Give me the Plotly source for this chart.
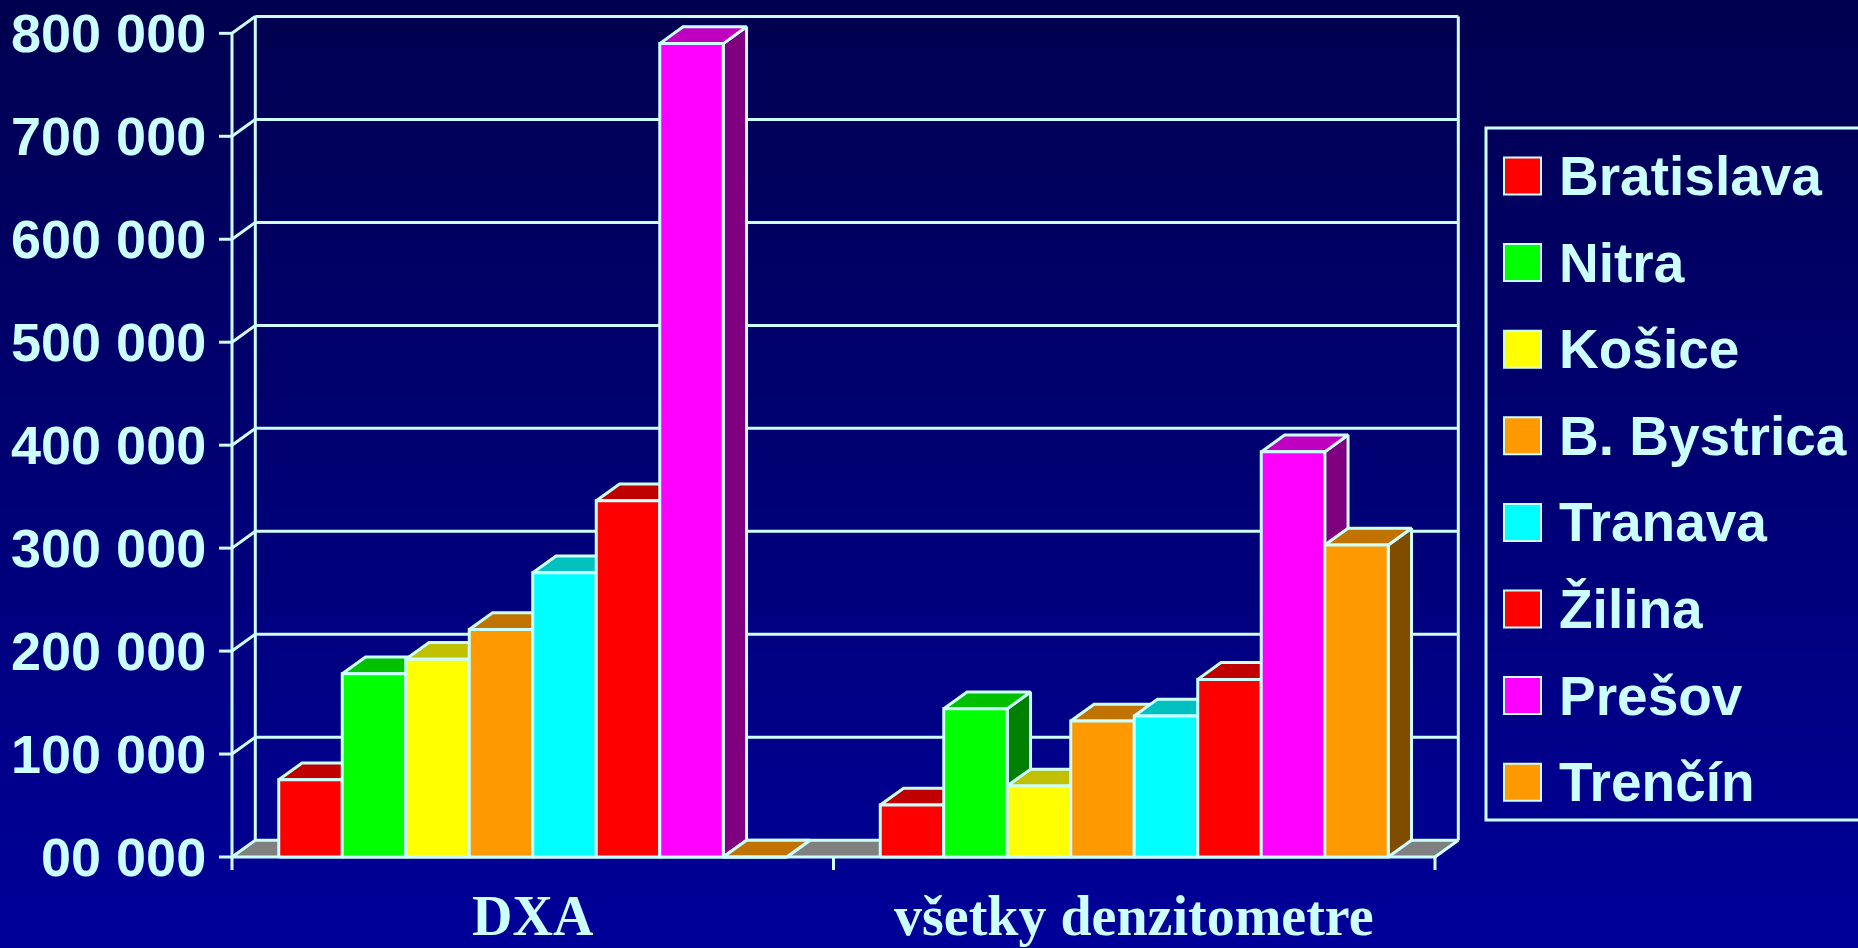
import plotly.graph_objects as go

# ---------------- data ----------------
categories = ["DXA", "všetky denzitometre"]
regions = ["Bratislava", "Nitra", "Košice", "B. Bystrica", "Tranava", "Žilina", "Prešov", "Trenčín"]
values_dxa = [75000, 178000, 192000, 221000, 276000, 346000, 790000, 0]
values_all = [50500, 144000, 69000, 132000, 137000, 172500, 393500, 303000]
y_tickvals = [0, 100000, 200000, 300000, 400000, 500000, 600000, 700000, 800000]
y_ticktext = ["00 000", "100 000", "200 000", "300 000", "400 000",
              "500 000", "600 000", "700 000", "800 000"]

front_colors = ["#FF0000", "#00FF00", "#FFFF00", "#FF9900", "#00FFFF", "#FF0000", "#FF00FF", "#FF9900"]
top_colors = ["#C00000", "#00C000", "#C0C000", "#C07300", "#00C0C0", "#C00000", "#C000C0", "#C07300"]
side_colors = ["#800000", "#008000", "#808000", "#804D00", "#008080", "#800000", "#800080", "#804D00"]

series_by_cat = [values_dxa, values_all]

# ---------------- geometry (pixel layout) ----------------
W, H = 1858, 948
TXT = "#CCFFFF"
LW = 3
X0_PX = 232.0      # front-left corner of the floor
CAT_PX = 601.5     # pixels per category
BASE_PX = 857.0    # baseline (value 0) on the front plane
YS = 102.96 / 100000.0  # pixels per unit value
DEPTH_X_PX = 23.3
DEPTH_Y_PX = 16.8
BAR_PX = 63.5


def x_of(px):
    return -0.5 + (px - X0_PX) / CAT_PX


def y_of(px):
    return (BASE_PX - px) / YS


dX = DEPTH_X_PX / CAT_PX
dY = DEPTH_Y_PX / YS
BW = BAR_PX / CAT_PX
YMAX = y_tickvals[-1]
n_ser = len(regions)

fig = go.Figure()

# floor
fig.add_trace(go.Scatter(
    x=[-0.5, len(categories) - 0.5, len(categories) - 0.5 + dX, -0.5 + dX, -0.5],
    y=[0, 0, dY, dY, 0], mode="lines", fill="toself", fillcolor="#808080",
    line=dict(color=TXT, width=LW), hoverinfo="skip", showlegend=False))

# 3D bars, painter's order left to right
for ci, vals in enumerate(series_by_cat):
    for si, v in enumerate(vals):
        x0 = ci - n_ser / 2 * BW + si * BW
        x1 = x0 + BW
        faces = [
            ([x1, x1 + dX, x1 + dX, x1, x1], [0, dY, v + dY, v, 0], side_colors[si]),
            ([x0, x1, x1 + dX, x0 + dX, x0], [v, v, v + dY, v + dY, v], top_colors[si]),
            ([x0, x1, x1, x0, x0], [0, 0, v, v, 0], front_colors[si]),
        ]
        for fx, fy, col in faces:
            fig.add_trace(go.Scatter(
                x=fx, y=fy, mode="lines", fill="toself", fillcolor=col,
                line=dict(color=TXT, width=LW), hoverinfo="skip", showlegend=False,
                name=regions[si]))

shapes = []
# background gradient
NB = 60
for i in range(NB):
    t = i / (NB - 1)
    b = int(round(0x50 + (0x98 - 0x50) * t))
    shapes.append(dict(type="rect", xref="paper", yref="paper",
                       x0=0, x1=1, y0=1 - (i + 1.05) / NB, y1=1 - i / NB,
                       fillcolor=f"rgb(0,0,{b})", line=dict(width=0), layer="below"))

line_style = dict(color=TXT, width=LW)
xr = len(categories) - 0.5
# back wall grid lines + side wall diagonals + y ticks
for v in y_tickvals:
    if v > 0:
        shapes.append(dict(type="line", xref="x", yref="y", x0=-0.5 + dX, x1=xr + dX,
                           y0=v + dY, y1=v + dY, line=line_style, layer="below"))
        shapes.append(dict(type="line", xref="x", yref="y", x0=-0.5, x1=-0.5 + dX,
                           y0=v, y1=v + dY, line=line_style, layer="below"))
    shapes.append(dict(type="line", xref="x", yref="y", x0=x_of(219), x1=-0.5,
                       y0=v, y1=v, line=line_style, layer="below"))
# verticals
shapes.append(dict(type="line", xref="x", yref="y", x0=-0.5, x1=-0.5, y0=y_of(870), y1=YMAX,
                   line=line_style, layer="below"))
shapes.append(dict(type="line", xref="x", yref="y", x0=-0.5 + dX, x1=-0.5 + dX, y0=dY, y1=YMAX + dY,
                   line=line_style, layer="below"))
shapes.append(dict(type="line", xref="x", yref="y", x0=xr + dX, x1=xr + dX, y0=dY, y1=YMAX + dY,
                   line=line_style, layer="below"))
# x ticks at category boundaries
for k in range(1, len(categories) + 1):
    xb = k - 0.5
    shapes.append(dict(type="line", xref="x", yref="y", x0=xb, x1=xb, y0=0, y1=y_of(870),
                       line=line_style, layer="below"))

annotations = []
for v, t in zip(y_tickvals, y_ticktext):
    annotations.append(dict(x=x_of(208), y=v, xref="x", yref="y", text=t, showarrow=False,
                            xanchor="right", yanchor="middle",
                            font=dict(family="Liberation Sans, Arial", size=54, color=TXT, weight="bold")))
for ci, c in enumerate(categories):
    annotations.append(dict(x=ci, y=y_of(916), xref="x", yref="y", text=c, showarrow=False,
                            xanchor="center", yanchor="middle",
                            font=dict(family="Liberation Serif, Times New Roman", size=56, color=TXT,
                                      weight="bold")))

# legend (drawn manually to match large swatches)
LEG_X0, LEG_Y0, LEG_Y1 = 1486, 128, 820
shapes.append(dict(type="rect", xref="paper", yref="paper", x0=LEG_X0 / W, x1=(W + 10) / W,
                   y0=1 - LEG_Y1 / H, y1=1 - LEG_Y0 / H, line=line_style, fillcolor="rgba(0,0,0,0)"))
for i, (r, col) in enumerate(zip(regions, front_colors)):
    cy = 176 + i * 86.6
    shapes.append(dict(type="rect", xref="paper", yref="paper", x0=1504 / W, x1=1541 / W,
                       y0=1 - (cy + 18.5) / H, y1=1 - (cy - 18.5) / H,
                       fillcolor=col, line=dict(color=TXT, width=2)))
    annotations.append(dict(x=1557 / W, y=1 - cy / H, xref="paper", yref="paper", text=r,
                            showarrow=False, xanchor="left", yanchor="middle",
                            font=dict(family="Liberation Sans, Arial", size=55, color=TXT, weight="bold")))

fig.update_layout(
    width=W, height=H, margin=dict(l=0, r=0, t=0, b=0),
    paper_bgcolor="#000078", plot_bgcolor="rgba(0,0,0,0)",
    xaxis=dict(range=[x_of(0), x_of(W)], visible=False, fixedrange=True),
    yaxis=dict(range=[y_of(H), y_of(0)], visible=False, fixedrange=True),
    shapes=shapes, annotations=annotations, showlegend=False,
)

fig.write_html("out.html", config={"displayModeBar": False},
               post_script="document.body.style.margin='0';document.body.style.overflow='hidden';")
